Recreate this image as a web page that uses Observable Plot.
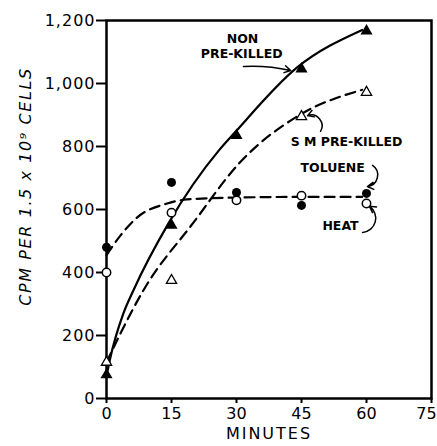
<!DOCTYPE html>
<html>
<head>
<meta charset="utf-8">
<script src="https://cdn.jsdelivr.net/npm/d3@7"></script>
<script src="https://cdn.jsdelivr.net/npm/@observablehq/plot@0.6"></script>
<style>
  html, body { margin: 0; padding: 0; background: #fff; }
</style>
</head>
<body>
<div id="chart"></div>
<script>
// ---- Tick values ----
const xTicks = [0, 15, 30, 45, 60, 75];
const yTicks = [0, 200, 400, 600, 800, 1000, 1200];

// ---- Measured points ----
const nonT = [0, 15, 30, 45, 60];
const nonV = [75, 550, 835, 1046, 1167];

const smT = [0, 15, 45, 60];
const smV = [115, 375, 895, 972];

const tolT = [0, 15, 30, 45, 60];
const tolV = [480, 686, 654, 613, 651];

const heatT = [0, 15, 30, 45, 60];
const heatV = [400, 590, 629, 644, 619];

// ---- Drawn (fitted) curves ----
const nonCurveT = [0, 0.9, 3.9, 6.2, 14.3, 25.9, 29.4, 44, 59];
const nonCurveV = [70, 130, 270, 343, 556, 787, 841, 1051, 1170];

const smCurveT = [0, 3.2, 8.5, 20.1, 30.5, 44.3, 59];
const smCurveV = [115, 206, 343, 559, 745, 898, 980];

const thCurveT = [0, 3.2, 7.1, 14, 18.6, 30, 45, 59];
const thCurveV = [455, 517, 575, 619, 632, 638, 640, 640];

// ---- Annotations ----
const annoText = ["NON", "PRE-KILLED", "S M PRE-KILLED", "TOLUENE", "HEAT"];
const annoT = [31.4, 31.2, 55.4, 52.2, 54];
const annoV = [1141, 1095, 813, 733, 549];

const arrowT1 = [31.6, 49.4, 61.4, 59.1];
const arrowV1 = [1054, 848, 740, 527];
const arrowT2 = [42.5, 46.4, 60.2, 60.7];
const arrowV2 = [1041, 898, 673, 610];
const arrowBend = [8, -70, 70, -70];

const xLabel = "MINUTES";
const yLabel = "CPM PER 1.5 x 10\u2079 CELLS";

const rows = (T, V) => T.map((t, i) => ({t, v: V[i]}));

const arrowMarks = arrowT1.map((_, i) =>
  Plot.arrow([i], {
    x1: () => arrowT1[i], y1: () => arrowV1[i],
    x2: () => arrowT2[i], y2: () => arrowV2[i],
    bend: arrowBend[i], stroke: "black", strokeWidth: 1.5, headLength: 7
  })
);

const chart = Plot.plot({
  width: 437,
  height: 446,
  marginLeft: 106,
  marginRight: 6,
  marginTop: 20,
  marginBottom: 48,
  x: {domain: [0, 75]},
  y: {domain: [0, 1200]},
  style: {fontFamily: "DejaVu Sans", fontSize: "16px", background: "white", color: "black"},
  marks: [
    Plot.frame({stroke: "black", strokeWidth: 2.5}),
    Plot.axisX({ticks: xTicks, tickSize: 5, tickPadding: 4, tickFormat: d => String(d), label: null, strokeWidth: 2, fontSize: 16}),
    Plot.axisY({ticks: yTicks, tickSize: 10, tickPadding: 1, tickFormat: d3.format(","), label: null, strokeWidth: 2, fontSize: 16}),
    Plot.text([xLabel], {frameAnchor: "bottom", dy: 40, text: d => d, fontSize: 16}),
    Plot.text([yLabel], {frameAnchor: "left", textAnchor: "middle", dx: -81, dy: -23, rotate: -90, text: d => d, fontSize: 16, fontStyle: "italic"}),
    // curves
    Plot.line(rows(nonCurveT, nonCurveV), {x: "t", y: "v", curve: "monotone-x", stroke: "black", strokeWidth: 2.2}),
    Plot.line(rows(smCurveT, smCurveV), {x: "t", y: "v", curve: "monotone-x", stroke: "black", strokeWidth: 2.2, strokeDasharray: "10,6"}),
    Plot.line(rows(thCurveT, thCurveV), {x: "t", y: "v", curve: "monotone-x", stroke: "black", strokeWidth: 2.2, strokeDasharray: "10,6"}),
    // points
    Plot.dot(rows(nonT, nonV), {x: "t", y: "v", symbol: "triangle", r: 4.5, fill: "black"}),
    Plot.dot(rows(smT, smV), {x: "t", y: "v", symbol: "triangle", r: 3.8, fill: "white", stroke: "black", strokeWidth: 1.3}),
    Plot.dot(rows(tolT, tolV), {x: "t", y: "v", r: 4.5, fill: "black"}),
    Plot.dot(rows(heatT, heatV), {x: "t", y: "v", r: 4.2, fill: "white", stroke: "black", strokeWidth: 1.5}),
    // annotations
    Plot.text(annoText, {x: (d, i) => annoT[i], y: (d, i) => annoV[i], text: d => d, fontSize: 12.5, fontWeight: "bold"}),
    ...arrowMarks
  ]
});

document.getElementById("chart").appendChild(chart);

const svg = d3.select(chart);
svg.selectAll("text").filter(function() { return this.textContent === xLabel; }).attr("letter-spacing", 2);
svg.selectAll("text").filter(function() { return this.textContent === yLabel; }).attr("letter-spacing", 1.6);
svg.selectAll("[aria-label='y-axis tick label'] text").attr("letter-spacing", 1);
svg.selectAll("[aria-label='x-axis tick label'] text").filter(function() { return this.textContent === "75"; }).attr("dx", -5);
</script>
</body>
</html>
